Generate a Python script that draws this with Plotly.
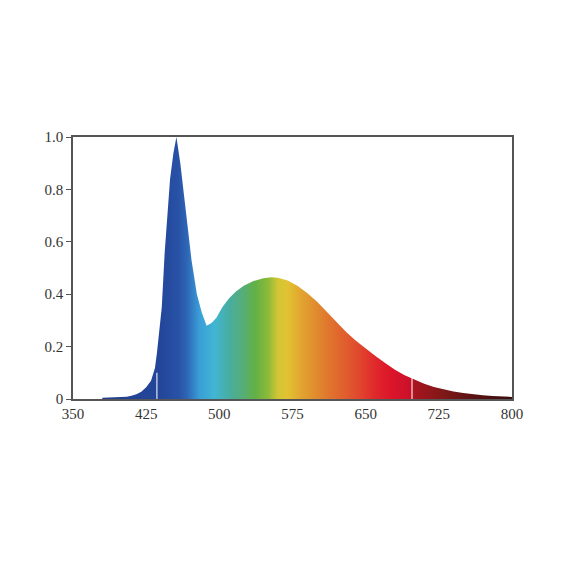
import plotly.graph_objects as go

# Spectral power distribution (relative)
wavelength = [380, 390, 400, 405, 410, 415, 420, 425, 430, 434, 436, 439, 441, 444, 447, 449.5, 453, 456,
              460, 463, 466.5, 471.5, 477, 482, 487, 492, 497, 503, 510, 517, 525, 535, 545, 553,
              560, 570, 580, 590, 600, 610, 620, 630, 640, 650, 660, 670, 680, 690, 700, 710,
              720, 730, 740, 750, 760, 770, 780, 790, 800]
intensity = [0.005, 0.006, 0.007, 0.009, 0.012, 0.018, 0.028, 0.045, 0.07, 0.118, 0.175, 0.27, 0.35, 0.56, 0.72, 0.84, 0.94, 1.00,
             0.90, 0.80, 0.68, 0.53, 0.40, 0.33, 0.28, 0.29, 0.31, 0.35, 0.385, 0.41, 0.432, 0.450, 0.461, 0.465,
             0.463, 0.452, 0.432, 0.405, 0.372, 0.333, 0.294, 0.256, 0.222, 0.192, 0.164, 0.137, 0.112, 0.091, 0.073, 0.058,
             0.046, 0.037, 0.029, 0.023, 0.018, 0.014, 0.011, 0.009, 0.008]

# spectrum colour stops (wavelength, colour)
color_nm = [380, 440, 458, 467, 480, 495, 511, 525, 537, 550, 560, 570, 583, 600, 613, 630, 644, 660, 675, 695, 700, 730, 760, 800]
color_hex = ["#22418e", "#23469a", "#2852a6", "#2e66b6", "#3a9fd8", "#41b6d2", "#48ad9e", "#56ae74", "#63b044",
             "#8cba3a", "#d2c634", "#e2c232", "#e2a630", "#e08a2e", "#e0742e", "#e05c2e", "#e0462e", "#e0282c",
             "#dc162a", "#cc102a", "#a8141e", "#7e1818", "#5a1212", "#3a0e0e"]

# thin white scan artefacts in the original figure
gap_nm = [436, 697.5]
gap_top = [0.10, 0.08]

x_ticks = [350, 425, 500, 575, 650, 725, 800]
y_ticks = [0, 0.2, 0.4, 0.6, 0.8, 1.0]
y_ticktext = ["0", "0.2", "0.4", "0.6", "0.8", "1.0"]

lo, hi = min(wavelength), max(wavelength)
colorscale = [[(w - lo) / (hi - lo), c] for w, c in zip(color_nm, color_hex)]

fig = go.Figure()
fig.add_trace(go.Scatter(
    x=wavelength, y=intensity, mode="lines", line=dict(width=0, color="rgba(0,0,0,0)"),
    fill="tozeroy",
    fillgradient=dict(type="horizontal", colorscale=colorscale, start=lo, stop=hi),
    hoverinfo="skip", showlegend=False,
))
for g, t in zip(gap_nm, gap_top):
    fig.add_trace(go.Scatter(x=[g, g], y=[0, t], mode="lines",
                             line=dict(color="rgba(255,255,255,0.85)", width=1.2),
                             hoverinfo="skip", showlegend=False))

font = dict(family="Liberation Serif, Times New Roman, serif", size=15, color="#333333")
fig.update_layout(
    width=587, height=587,
    margin=dict(l=65, r=83, t=129, b=196),
    paper_bgcolor="white", plot_bgcolor="white",
    font=font, showlegend=False,
)
fig.update_xaxes(range=[350, 800], tickvals=x_ticks, ticktext=[str(v) for v in x_ticks],
                 showgrid=False, zeroline=False, showline=True, linecolor="#555555", linewidth=1.5,
                 mirror=True, ticks="", tickfont=font)
fig.update_yaxes(range=[0, 1.0], tickvals=y_ticks, ticktext=y_ticktext,
                 showgrid=False, zeroline=False, showline=True, linecolor="#555555", linewidth=1.5,
                 mirror=True, ticks="outside", ticklen=5, tickcolor="#555555", tickfont=font)

fig.write_html("out.html")
